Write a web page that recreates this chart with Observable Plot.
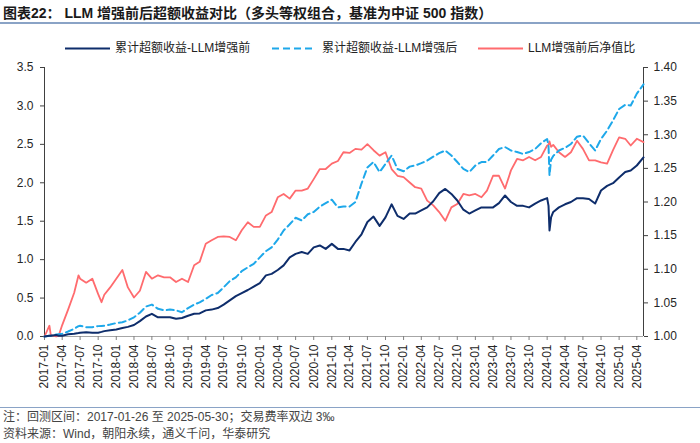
<!DOCTYPE html>
<html>
<head>
<meta charset="utf-8">
<script src="https://cdn.jsdelivr.net/npm/d3@7"></script>
<script src="https://cdn.jsdelivr.net/npm/@observablehq/plot@0.6"></script>
<style>
  html, body { margin: 0; padding: 0; background: #fff; }
  #wrap { position: relative; width: 700px; height: 443px; overflow: hidden;
          font-family: "Liberation Sans", Arial, "Noto Sans CJK SC", sans-serif; color: #222; }
  #title { position: absolute; left: 3px; top: 4px; font-size: 14px; font-weight: bold; line-height: 18px; white-space: nowrap; color: #1a1a1a; }
  .rule { position: absolute; left: 0; width: 700px; height: 1.5px; background: #8aa3c6; }
  .leg { position: absolute; top: 40px; height: 16px; font-size: 12px; line-height: 16px; white-space: nowrap; color: #222; }
  .legsw { position: absolute; top: 40px; }
  #chart { position: absolute; left: 0; top: 56px; }
  .foot { position: absolute; left: 3px; font-size: 12px; line-height: 15px; color: #444; white-space: nowrap; }
</style>
</head>
<body>
<div id="wrap">
  <div id="title">图表22：&nbsp;LLM 增强前后超额收益对比（多头等权组合，基准为中证 500 指数）</div>
  <div class="rule" style="top:22px"></div>
  <div id="legend"></div>
  <div id="chart"></div>
  <div class="rule" style="top:406.5px"></div>
  <div class="foot" style="top:410px">注：回测区间：2017-01-26 至 2025-05-30；交易费率双边 3‰</div>
  <div class="foot" style="top:427px">资料来源：Wind，朝阳永续，通义千问，华泰研究</div>
</div>
<script>
const seriesNames = ["累计超额收益-LLM增强前", "累计超额收益-LLM增强后", "LLM增强前后净值比"];
const seriesColors = ["#0e2d6b", "#1ea8ea", "#ff6b6e"];

const dates = [
"2017-01-26","2017-02-20","2017-02-27","2017-03-26","2017-04-08","2017-04-26","2017-05-26","2017-06-26","2017-07-18","2017-07-26",
"2017-08-26","2017-09-26","2017-10-26","2017-11-12","2017-11-26","2017-12-26","2018-01-26","2018-02-26","2018-03-26","2018-04-26",
"2018-05-26","2018-06-26","2018-07-26","2018-08-26","2018-09-26","2018-10-26","2018-11-26","2018-12-26","2019-01-26","2019-02-26",
"2019-03-26","2019-04-26","2019-05-26","2019-06-26","2019-07-26","2019-08-26","2019-09-26","2019-10-26","2019-11-26","2019-12-26",
"2020-01-26","2020-02-26","2020-03-26","2020-04-26","2020-05-26","2020-06-26","2020-07-26","2020-08-26","2020-09-26","2020-10-26",
"2020-11-26","2020-12-26","2021-01-26","2021-02-26","2021-03-26","2021-04-26","2021-05-26","2021-06-26","2021-07-26","2021-08-26",
"2021-09-26","2021-10-26","2021-11-26","2021-12-26","2022-01-26","2022-02-26","2022-03-26","2022-04-26","2022-05-26","2022-06-26",
"2022-07-26","2022-08-26","2022-09-26","2022-10-26","2022-11-26","2022-12-26","2023-01-26","2023-02-26","2023-03-26","2023-04-26",
"2023-05-26","2023-06-26","2023-07-26","2023-08-26","2023-09-26","2023-10-26","2023-11-26","2023-12-26","2024-01-26","2024-02-02",
"2024-02-07","2024-02-15","2024-02-26","2024-03-26","2024-04-26","2024-05-26","2024-06-26","2024-07-26","2024-08-26","2024-09-26",
"2024-10-26","2024-11-26","2024-12-26","2025-01-26","2025-02-26","2025-03-26","2025-04-26","2025-05-30"];

const excessBefore = [
0.00,0.01,0.01,0.02,0.01,0.01,0.03,0.035,0.045,0.05,
0.055,0.05,0.05,0.06,0.07,0.08,0.09,0.11,0.125,0.15,
0.20,0.26,0.295,0.25,0.25,0.25,0.23,0.24,0.27,0.295,
0.30,0.34,0.35,0.37,0.415,0.47,0.525,0.565,0.605,0.65,
0.695,0.795,0.815,0.865,0.925,1.03,1.075,1.10,1.075,1.16,
1.185,1.14,1.205,1.14,1.14,1.12,1.23,1.33,1.49,1.56,
1.44,1.55,1.72,1.57,1.53,1.60,1.60,1.64,1.68,1.76,
1.865,1.92,1.855,1.77,1.65,1.60,1.64,1.68,1.68,1.68,
1.735,1.835,1.75,1.70,1.70,1.68,1.73,1.77,1.80,1.70,
1.38,1.55,1.62,1.68,1.72,1.75,1.80,1.80,1.79,1.73,
1.90,1.96,1.995,2.07,2.14,2.16,2.225,2.33];

const excessAfter = [
0.00,0.01,0.01,0.025,0.03,0.035,0.065,0.10,0.135,0.14,
0.12,0.12,0.135,0.138,0.14,0.155,0.175,0.185,0.21,0.25,
0.31,0.39,0.415,0.36,0.34,0.35,0.34,0.315,0.37,0.415,
0.445,0.49,0.54,0.565,0.64,0.72,0.77,0.85,0.90,0.945,
1.03,1.11,1.16,1.26,1.38,1.46,1.545,1.51,1.59,1.62,
1.69,1.735,1.78,1.68,1.69,1.69,1.75,1.99,2.20,2.27,
2.14,2.245,2.355,2.18,2.15,2.21,2.225,2.255,2.29,2.34,
2.385,2.42,2.355,2.27,2.18,2.14,2.225,2.27,2.27,2.355,
2.44,2.465,2.42,2.40,2.375,2.40,2.44,2.515,2.57,2.48,
2.095,2.30,2.35,2.42,2.455,2.505,2.60,2.615,2.515,2.42,
2.57,2.68,2.81,2.96,3.015,3.005,3.16,3.28];

const navRatio = [
1.000,1.016,1.002,1.000,1.001,1.017,1.040,1.065,1.091,1.086,
1.080,1.086,1.063,1.051,1.062,1.073,1.086,1.099,1.073,1.058,
1.068,1.096,1.086,1.091,1.088,1.088,1.081,1.086,1.081,1.106,
1.111,1.138,1.143,1.148,1.149,1.148,1.143,1.158,1.170,1.163,
1.163,1.180,1.185,1.207,1.212,1.205,1.217,1.217,1.220,1.234,
1.249,1.249,1.257,1.261,1.274,1.273,1.279,1.278,1.286,1.277,
1.269,1.274,1.249,1.239,1.237,1.229,1.222,1.220,1.202,1.195,
1.185,1.172,1.192,1.197,1.212,1.210,1.212,1.207,1.217,1.239,
1.239,1.220,1.247,1.264,1.262,1.267,1.262,1.267,1.284,1.285,
1.290,1.282,1.285,1.274,1.267,1.274,1.291,1.279,1.262,1.262,
1.259,1.257,1.277,1.296,1.294,1.284,1.294,1.289];

const leftTicks = [0, 0.5, 1.0, 1.5, 2.0, 2.5, 3.0, 3.5];
const rightTicks = [1.00, 1.05, 1.10, 1.15, 1.20, 1.25, 1.30, 1.35, 1.40];
const xTickLabels = [
"2017-01","2017-04","2017-07","2017-10","2018-01","2018-04","2018-07","2018-10",
"2019-01","2019-04","2019-07","2019-10","2020-01","2020-04","2020-07","2020-10",
"2021-01","2021-04","2021-07","2021-10","2022-01","2022-04","2022-07","2022-10",
"2023-01","2023-04","2023-07","2023-10","2024-01","2024-04","2024-07","2024-10",
"2025-01","2025-04"];

const leftMax = 3.5, rightMin = 1.0, rightMax = 1.4;
const toLeft = r => (r - rightMin) / (rightMax - rightMin) * leftMax;
const fromLeft = v => rightMin + v / leftMax * (rightMax - rightMin);

const parse = d3.utcParse("%Y-%m-%d");
const rows = dates.map((d, i) => ({
  date: parse(d), before: excessBefore[i], after: excessAfter[i], ratio: navRatio[i]
}));
const xStart = parse(dates[0]);
const xEnd = parse(dates[dates.length - 1]);
const xTicks = xTickLabels.map(s => parse(s + "-26"));

// legend
const legend = document.getElementById("legend");
const legItems = [
  {x1: 65, x2: 110, tx: 115, dash: null},
  {x1: 272, x2: 316, tx: 322, dash: "7,4"},
  {x1: 478, x2: 523, tx: 528, dash: null}
];
legItems.forEach((it, i) => {
  const sw = document.createElementNS("http://www.w3.org/2000/svg", "svg");
  sw.setAttribute("class", "legsw");
  sw.setAttribute("width", it.x2 - it.x1);
  sw.setAttribute("height", 16);
  sw.style.left = it.x1 + "px";
  const ln = document.createElementNS("http://www.w3.org/2000/svg", "line");
  ln.setAttribute("x1", 0); ln.setAttribute("x2", it.x2 - it.x1);
  ln.setAttribute("y1", 8.5); ln.setAttribute("y2", 8.5);
  ln.setAttribute("stroke", seriesColors[i]);
  ln.setAttribute("stroke-width", 2);
  if (it.dash) ln.setAttribute("stroke-dasharray", it.dash);
  sw.appendChild(ln);
  legend.appendChild(sw);
  const t = document.createElement("div");
  t.className = "leg";
  t.style.left = it.tx + "px";
  t.textContent = seriesNames[i];
  legend.appendChild(t);
});

const chart = Plot.plot({
  width: 700,
  height: 346,
  marginLeft: 44,
  marginRight: 57,
  marginTop: 11,
  marginBottom: 66,
  style: {fontFamily: "'Liberation Sans', Arial, sans-serif", fontSize: "12px", color: "#262626", background: "transparent"},
  x: {type: "utc", domain: [xStart, xEnd]},
  y: {domain: [0, leftMax]},
  marks: [
    Plot.ruleY([0], {stroke: "#a6a6a6", strokeWidth: 1}),
    Plot.ruleX([xStart], {stroke: "#404040", strokeWidth: 1}),
    Plot.ruleX([xEnd], {stroke: "#404040", strokeWidth: 1}),
    Plot.axisY({anchor: "left", ticks: leftTicks, tickFormat: d => d.toFixed(1), tickSize: 4, tickPadding: 7, label: null, fontSize: 12, stroke: "#404040"}),
    Plot.axisY({anchor: "right", ticks: rightTicks.map(toLeft), tickFormat: d => fromLeft(d).toFixed(2), tickSize: 4, tickPadding: 6, label: null, fontSize: 12, stroke: "#404040"}),
    Plot.axisX({ticks: xTicks, tickFormat: d3.utcFormat("%Y-%m"), tickRotate: -90, tickSize: 4, tickPadding: 4, label: null, fontSize: 12, stroke: "#808080"}),
    Plot.line(rows, {x: "date", y: d => toLeft(d.ratio), stroke: seriesColors[2], strokeWidth: 1.8}),
    Plot.line(rows, {x: "date", y: "after", stroke: seriesColors[1], strokeWidth: 2, strokeDasharray: "7,4"}),
    Plot.line(rows, {x: "date", y: "before", stroke: seriesColors[0], strokeWidth: 2})
  ]
});
document.getElementById("chart").appendChild(chart);
</script>
</body>
</html>
